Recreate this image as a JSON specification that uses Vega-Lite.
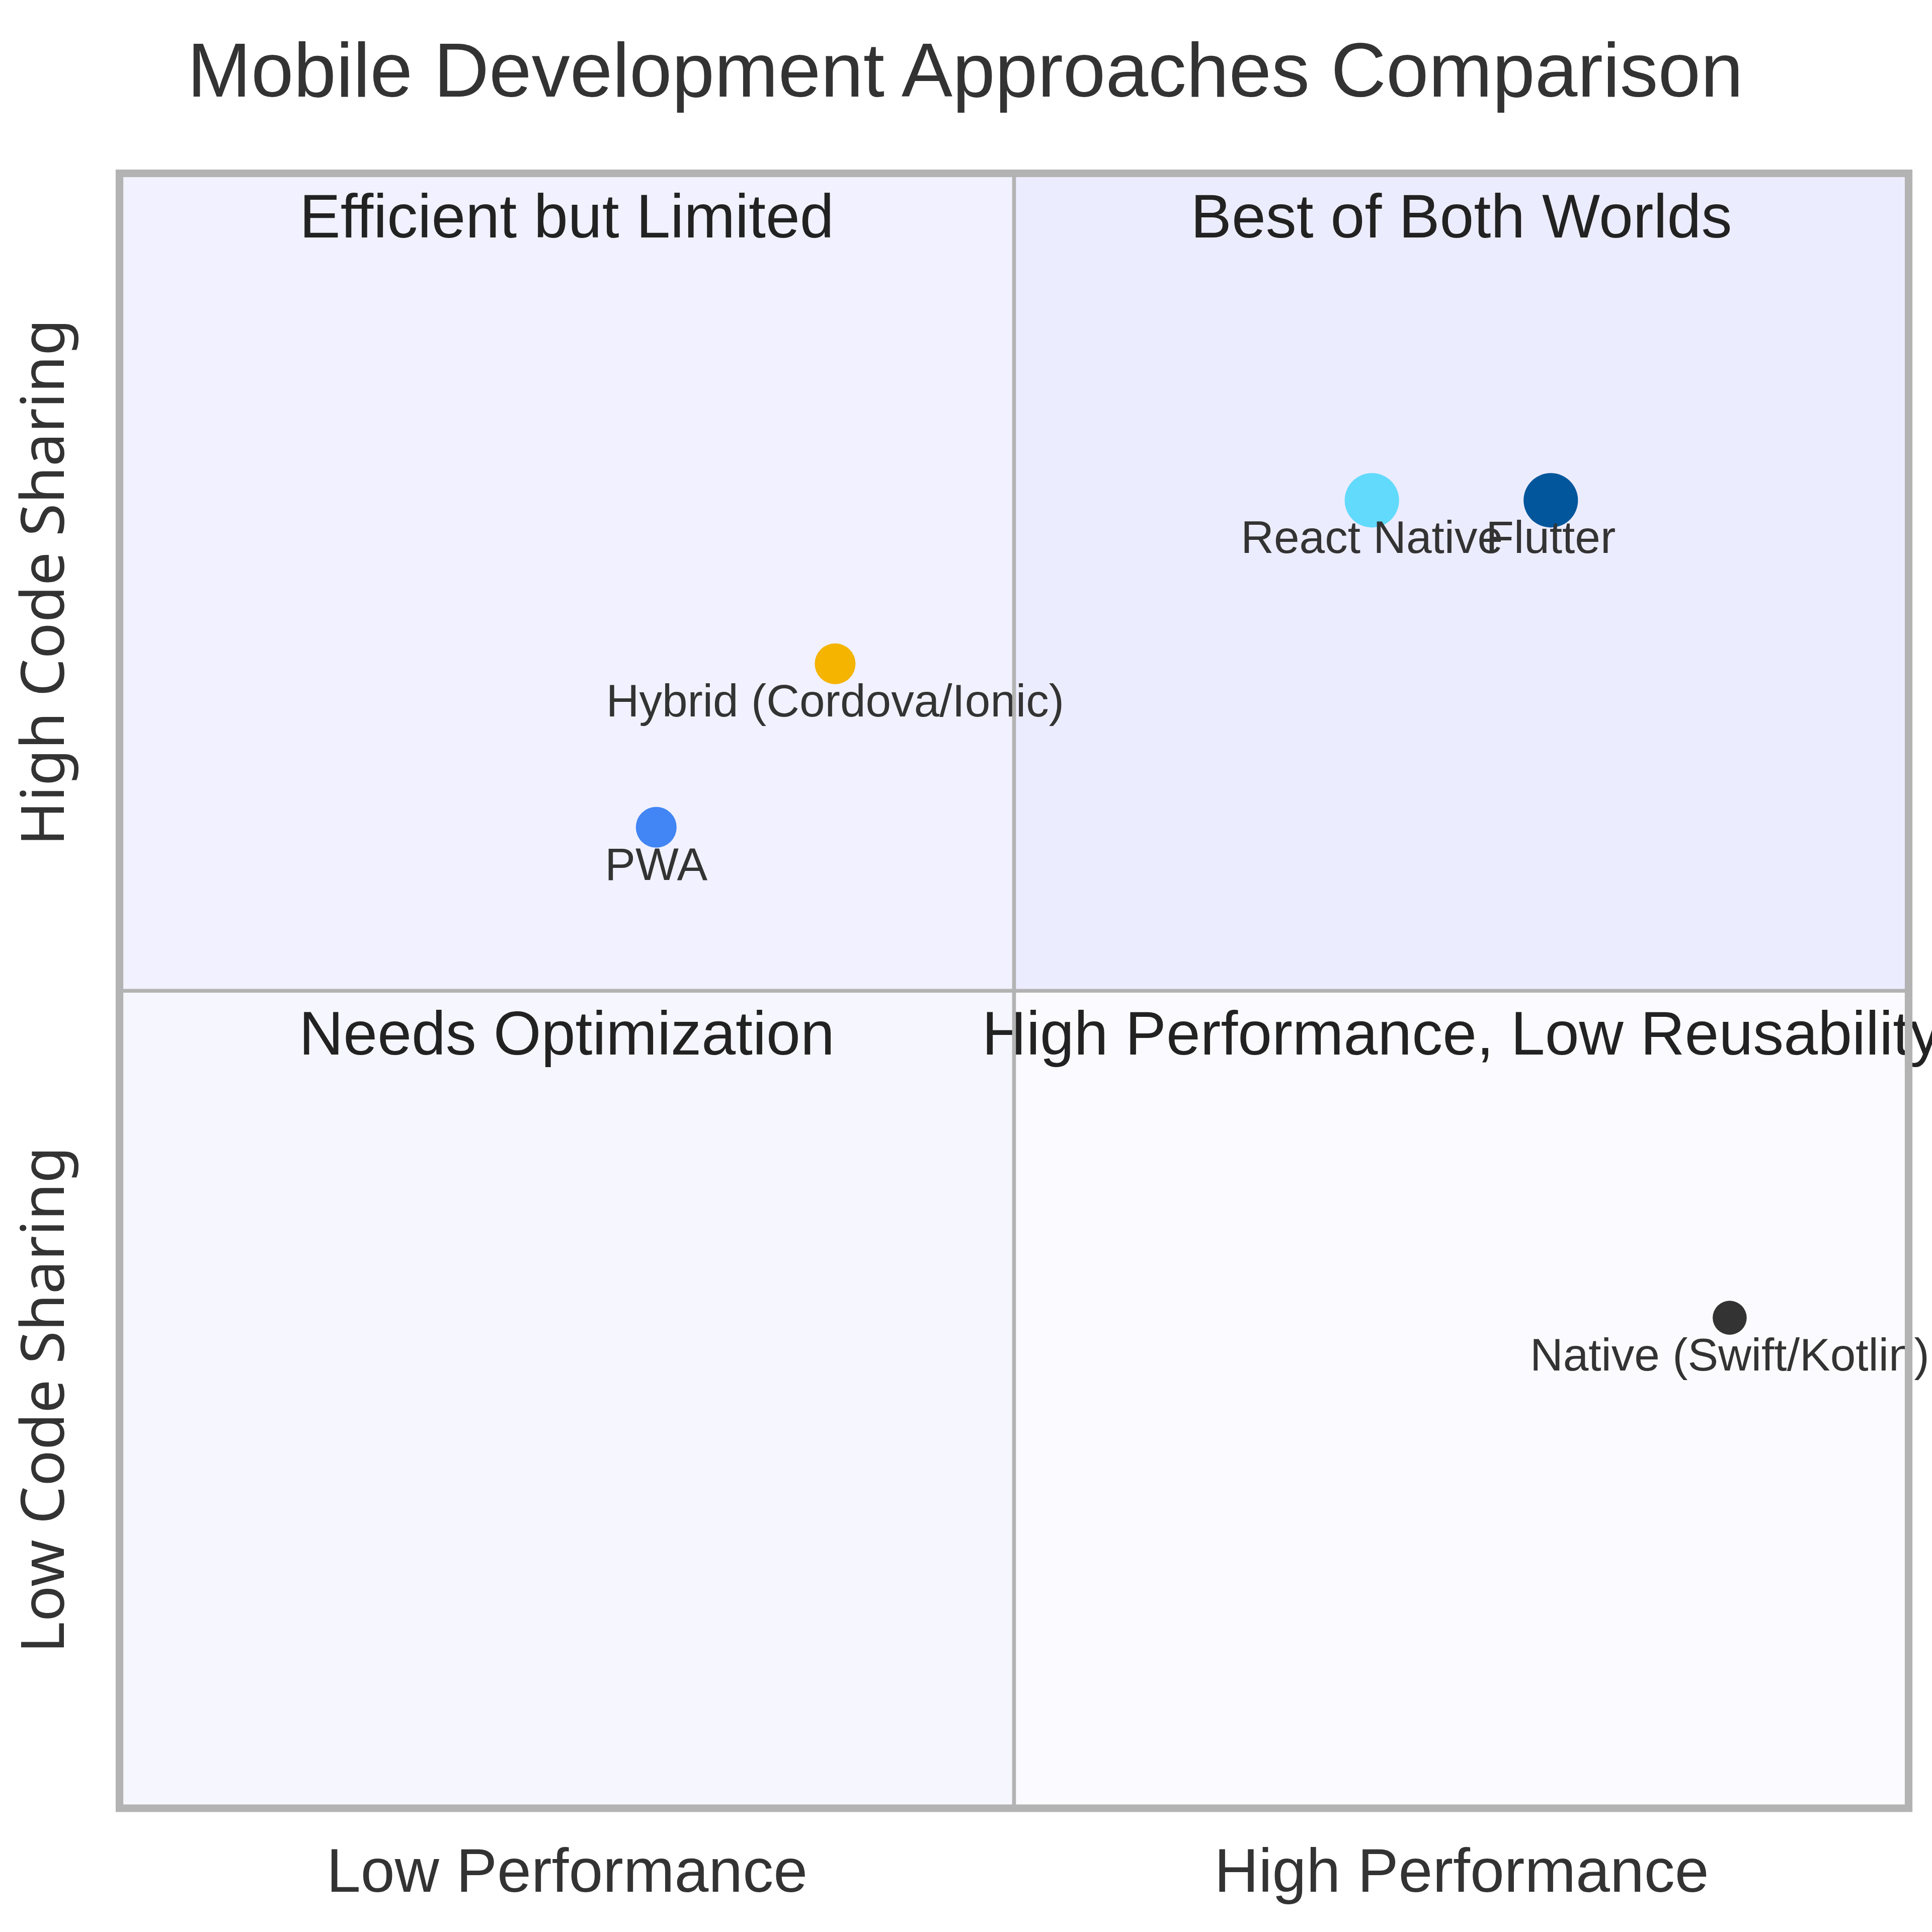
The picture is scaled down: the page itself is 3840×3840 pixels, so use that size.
{
  "$schema": "https://vega.github.io/schema/vega-lite/v6.json",
  "autosize": {"type": "none"},
  "width": 3556,
  "height": 3249.5,
  "padding": {"left": 237.5, "right": 46.5, "top": 344.5, "bottom": 246},
  "background": "white",
  "title": {
    "text": "Mobile Development Approaches Comparison",
    "font": "Liberation Sans",
    "fontSize": 152,
    "fontWeight": "normal",
    "color": "#333333",
    "anchor": "middle",
    "frame": "group",
    "dx": -97,
    "offset": -7,
    "baseline": "alphabetic",
    "limit": 0
  },
  "config": {
    "view": {"stroke": null},
    "axis": {"grid": false, "domain": false, "ticks": false, "tickSize": 0, "title": null, "labelOverlap": false, "labelBound": false, "labelFlush": false, "labelLimit": 0}
  },
  "datasets": {
    "quadrants": [
      {"quadrant": "Best of Both Worlds", "x0": 0.5, "x1": 1, "y0": 0.5, "y1": 1, "xc": 0.75},
      {"quadrant": "Efficient but Limited", "x0": 0, "x1": 0.5, "y0": 0.5, "y1": 1, "xc": 0.25},
      {"quadrant": "Needs Optimization", "x0": 0, "x1": 0.5, "y0": 0, "y1": 0.5, "xc": 0.25},
      {"quadrant": "High Performance, Low Reusability", "x0": 0.5, "x1": 1, "y0": 0, "y1": 0.5, "xc": 0.75}
    ],
    "approaches": [
      {"name": "React Native", "performance": 0.7, "codeSharing": 0.8, "radius": 8},
      {"name": "Flutter", "performance": 0.8, "codeSharing": 0.8, "radius": 8},
      {"name": "Hybrid (Cordova/Ionic)", "performance": 0.4, "codeSharing": 0.7, "radius": 6},
      {"name": "PWA", "performance": 0.3, "codeSharing": 0.6, "radius": 6},
      {"name": "Native (Swift/Kotlin)", "performance": 0.9, "codeSharing": 0.3, "radius": 5}
    ]
  },
  "layer": [
    {
      "data": {"name": "quadrants"},
      "mark": {"type": "rect"},
      "encoding": {
        "x": {
          "field": "x0", "type": "quantitative",
          "scale": {"domain": [0, 1], "nice": false, "zero": false},
          "axis": {
            "values": [0.25, 0.75],
            "labelExpr": "datum.value < 0.5 ? 'Low Performance' : 'High Performance'",
            "labelFont": "Liberation Sans",
            "labelFontSize": 122,
            "labelColor": "#333333",
            "labelPadding": 165,
            "labelBaseline": "alphabetic",
            "labelAlign": "center",
            "labelLimit": 0
          }
        },
        "x2": {"field": "x1"},
        "y": {
          "field": "y0", "type": "quantitative",
          "scale": {"domain": [0, 1], "nice": false, "zero": false},
          "axis": {
            "values": [0.25, 0.75],
            "labelExpr": "datum.value < 0.5 ? 'Low Code Sharing' : 'High Code Sharing'",
            "labelFont": "Noto Sans",
            "labelFontSize": 119,
            "labelColor": "#333333",
            "labelAngle": -90,
            "labelPadding": 111,
            "labelBaseline": "alphabetic",
            "labelAlign": "center",
            "labelLimit": 0
          }
        },
        "y2": {"field": "y1"},
        "fill": {
          "field": "quadrant", "type": "nominal",
          "scale": {
            "domain": ["Best of Both Worlds", "Efficient but Limited", "Needs Optimization", "High Performance, Low Reusability"],
            "range": ["#ECECFF", "#F1F1FF", "#F6F6FF", "#FBFBFF"]
          },
          "legend": null
        }
      }
    },
    {
      "data": {"name": "quadrants"},
      "mark": {"type": "text", "font": "Liberation Sans", "fontSize": 122, "fill": "#222222", "align": "center", "baseline": "alphabetic", "dy": 127},
      "encoding": {
        "x": {"field": "xc", "type": "quantitative"},
        "y": {"field": "y1", "type": "quantitative"},
        "text": {"field": "quadrant"}
      }
    },
    {
      "data": {"name": "approaches"},
      "mark": {"type": "point", "shape": "circle", "filled": true, "opacity": 1, "strokeWidth": 0},
      "encoding": {
        "x": {"field": "performance", "type": "quantitative"},
        "y": {"field": "codeSharing", "type": "quantitative"},
        "color": {
          "field": "name", "type": "nominal",
          "scale": {
            "domain": ["React Native", "Flutter", "Hybrid (Cordova/Ionic)", "PWA", "Native (Swift/Kotlin)"],
            "range": ["#61DAFB", "#02569B", "#F4B400", "#4285F4", "#333333"]
          },
          "legend": null
        },
        "size": {
          "field": "radius", "type": "quantitative",
          "scale": {"type": "pow", "exponent": 2, "domain": [0, 8], "range": [0, 11690]},
          "legend": null
        }
      }
    },
    {
      "data": {"name": "approaches"},
      "mark": {"type": "text", "font": "Liberation Sans", "fontSize": 91, "fill": "#333333", "align": "center", "baseline": "alphabetic", "dy": 105},
      "encoding": {
        "x": {"field": "performance", "type": "quantitative"},
        "y": {"field": "codeSharing", "type": "quantitative"},
        "text": {"field": "name"}
      }
    },
    {
      "data": {"values": [{"line": "vertical"}]},
      "mark": {"type": "rule", "color": "#B3B3B3", "strokeWidth": 7.6},
      "encoding": {
        "x": {"datum": 0.5, "type": "quantitative"},
        "y": {"datum": 0, "type": "quantitative"},
        "y2": {"datum": 1}
      }
    },
    {
      "data": {"values": [{"line": "horizontal"}]},
      "mark": {"type": "rule", "color": "#B3B3B3", "strokeWidth": 7.6},
      "encoding": {
        "y": {"datum": 0.5, "type": "quantitative"},
        "x": {"datum": 0, "type": "quantitative"},
        "x2": {"datum": 1}
      }
    },
    {
      "data": {"values": [{"line": "border"}]},
      "mark": {"type": "rect", "filled": false, "stroke": "#B3B3B3", "strokeWidth": 15.2},
      "encoding": {
        "x": {"datum": 0, "type": "quantitative"},
        "x2": {"datum": 1},
        "y": {"datum": 0, "type": "quantitative"},
        "y2": {"datum": 1}
      }
    }
  ]
}
